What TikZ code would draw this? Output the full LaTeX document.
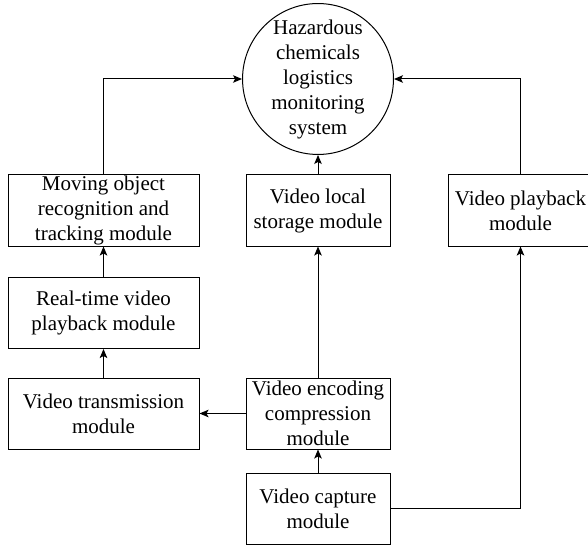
\documentclass[tikz,border=0pt]{standalone}
\usepackage{fontspec}
\setmainfont{Liberation Serif}
\usetikzlibrary{arrows.meta}

\tikzset{
    modbox/.style={draw, line width=1pt, rectangle, inner sep=0pt, align=center, minimum height=71pt},
    widebox/.style={modbox, minimum width=191pt},
    narrowbox/.style={modbox, minimum width=144pt},
    arr/.style={line width=1pt, -{Stealth[length=9pt, width=7.5pt, inset=2pt]}}
}

\begin{document}
\begin{tikzpicture}[x=1pt, y=-1pt, font=\fontsize{21}{25}\selectfont]
        \useasboundingbox (0,0) rectangle (588,545);

        % centre
        \node[draw, line width=1pt, circle, minimum size=144pt, inner sep=0pt, align=center] (sys) at (318,79)
            {Hazardous\\chemicals\\logistics\\monitoring\\system};

        % left column
        \node[widebox] (track) at (103.5,210.5) {Moving object\\recognition and\\tracking module};
        \node[widebox] (rtplay) at (103.5,313) {Real-time video\\playback module};
        \node[widebox] (trans) at (103.5,413.5) {Video transmission\\module};

        % middle column
        \node[narrowbox] (store) at (318,210.5) {Video local\\storage module};
        \node[narrowbox] (enc) at (318,413.5) {Video encoding\\compression\\module};
        \node[narrowbox] (cap) at (318,508.5) {Video capture\\module};

        % right column
        \node[narrowbox] (play) at (520.5,210.5) {Video playback\\module};

        \draw[arr] (track.north) |- (sys.west);
        \draw[arr] (play.north) |- (sys.east);
        \draw[arr] (store) -- (sys);
        \draw[arr] (rtplay) -- (track);
        \draw[arr] (trans) -- (rtplay);
        \draw[arr] (enc) -- (trans);
        \draw[arr] (enc) -- (store);
        \draw[arr] (cap) -- (enc);
        \draw[arr] (cap.east) -| (play.south);
    \end{tikzpicture}
\end{document}
